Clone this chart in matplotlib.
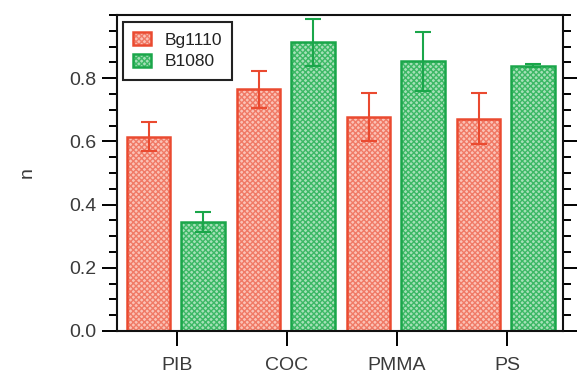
import matplotlib
matplotlib.use("Agg")
import matplotlib.pyplot as plt
import numpy as np
from matplotlib.ticker import MultipleLocator
from matplotlib.legend_handler import HandlerTuple

categories = ["PIB", "COC", "PMMA", "PS"]
series_names = ["Bg1110", "B1080"]
bg1110 = [0.615, 0.765, 0.677, 0.672]
bg1110_err = [0.045, 0.058, 0.075, 0.080]
b1080 = [0.345, 0.914, 0.853, 0.840]
b1080_err = [0.032, 0.074, 0.093, 0.004]

plt.rcParams['font.family'] = ['Liberation Sans', 'DejaVu Sans']
plt.rcParams['hatch.linewidth'] = 1.0

fig = plt.figure(figsize=(5.77, 3.8), dpi=100)
ax = fig.add_axes([0.2028, 0.129, 0.7729, 0.8315])

x = np.arange(len(categories))
red_edge = '#ea4a30'
red_face = '#fbc2b6'
red_hatch = '#f07a66'
green_edge = '#1aa64a'
green_face = '#a6e0b8'
green_hatch = '#3cb865'

def draw(xpos, vals, width, face, hatchc, edge):
    f = ax.bar(xpos, vals, width=width, color=face, edgecolor=hatchc,
               linewidth=0, hatch='xxxxxx', zorder=2)
    e = ax.bar(xpos, vals, width=width, fill=False, edgecolor=edge,
               linewidth=1.8, zorder=2.5)
    return f, e

r_f, r_e = draw(x - 0.255, bg1110, 0.39, red_face, red_hatch, red_edge)
g_f, g_e = draw(x + 0.24, b1080, 0.40, green_face, green_hatch, green_edge)

ax.errorbar(x - 0.255, bg1110, yerr=bg1110_err, fmt='none', ecolor=red_edge,
            elinewidth=1.5, capsize=6, capthick=1.5, zorder=3)
ax.errorbar(x + 0.24, b1080, yerr=b1080_err, fmt='none', ecolor=green_edge,
            elinewidth=1.5, capsize=6, capthick=1.5, zorder=3)

ax.set_xlim(-0.545, 3.51)
ax.set_ylim(0, 1.0)
ax.set_xticks(x)
ax.set_xticklabels(categories)
ax.yaxis.set_minor_locator(MultipleLocator(0.05))
ax.set_yticks([0.0, 0.2, 0.4, 0.6, 0.8])
ax.set_yticklabels(["0.0", "0.2", "0.4", "0.6", "0.8"])

ax.tick_params(axis='y', which='major', direction='out', length=11, width=1.4,
               labelsize=14, left=True, right=True, labelcolor='#3a3a3a', pad=4)
ax.tick_params(axis='y', which='minor', direction='out', length=6, width=1.4,
               left=True, right=True)
ax.tick_params(axis='x', which='major', direction='out', length=11, width=1.4,
               labelsize=14, labelcolor='#3a3a3a', pad=8)
for s in ax.spines.values():
    s.set_linewidth(1.5)
    s.set_color('#111111')

ax.set_ylabel("n", fontsize=14, color='#3a3a3a', labelpad=24)

leg = ax.legend([(r_f[0], r_e[0]), (g_f[0], g_e[0])], series_names,
                handler_map={tuple: HandlerTuple(ndivide=1, pad=0)},
                loc='upper left', bbox_to_anchor=(0.013, 0.978), borderaxespad=0,
                fontsize=12.5, fancybox=False, edgecolor='#222222', framealpha=1,
                handlelength=1.05, handleheight=0.75, handletextpad=0.75,
                borderpad=0.6, labelspacing=0.35)
leg.get_frame().set_linewidth(1.5)
for t in leg.get_texts():
    t.set_color('#222222')

fig.savefig("out.png", dpi=100)
